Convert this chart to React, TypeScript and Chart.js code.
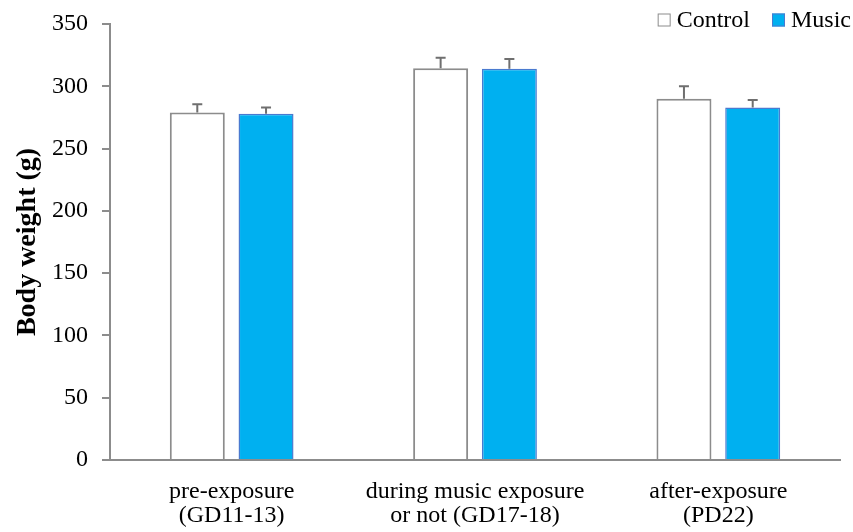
import React, { useEffect, useRef } from "react";
import { Chart, registerables } from "chart.js";

Chart.register(...registerables);

const categories: string[][] = [
  ["pre-exposure", "(GD11-13)"],
  ["during music exposure", "or not (GD17-18)"],
  ["after-exposure", "(PD22)"],
];
const controlValues = [279, 314.5, 290];
const controlErrors = [6.5, 8.5, 10];
const musicValues = [278, 314, 283];
const musicErrors = [5, 8, 6];
const yTicks = [0, 50, 100, 150, 200, 250, 300, 350];

const FONT = "'Liberation Serif', 'Times New Roman', serif";

const errorBarPlugin = {
  id: "errorBars",
  afterDatasetsDraw(chart: any) {
    const ctx = chart.ctx;
    const yScale = chart.scales.y;
    const errs = [controlErrors, musicErrors];
    chart.data.datasets.forEach((ds: any, di: number) => {
      const meta = chart.getDatasetMeta(di);
      meta.data.forEach((bar: any, i: number) => {
        const v = ds.data[i];
        const top = yScale.getPixelForValue(v + errs[di][i]);
        ctx.save();
        ctx.strokeStyle = "#6f6f6f";
        ctx.lineWidth = 2;
        ctx.beginPath();
        ctx.moveTo(bar.x, bar.y);
        ctx.lineTo(bar.x, top);
        ctx.moveTo(bar.x - 5, top);
        ctx.lineTo(bar.x + 5, top);
        ctx.stroke();
        ctx.restore();
      });
    });
  },
};

const legendPlugin = {
  id: "customLegend",
  afterDraw(chart: any) {
    const ctx = chart.ctx;
    const right = chart.width - 2;
    const cy = 20;
    ctx.save();
    ctx.font = `24px ${FONT}`;
    ctx.textBaseline = "middle";
    const items = chart.data.datasets.map((d: any) => d);
    const box = 13;
    const gapBoxText = 6;
    const gapItems = 22;
    const widths = items.map((d: any) => box + gapBoxText + ctx.measureText(d.label).width);
    const total = widths.reduce((a: number, b: number) => a + b, 0) + gapItems * (items.length - 1);
    let x = right - total;
    items.forEach((d: any, i: number) => {
      ctx.fillStyle = d.backgroundColor;
      ctx.fillRect(x, cy - box / 2, box, box);
      ctx.strokeStyle = d.borderColor;
      ctx.lineWidth = 1;
      ctx.strokeRect(x + 0.5, cy - box / 2 + 0.5, box - 1, box - 1);
      ctx.fillStyle = "#000";
      ctx.fillText(d.label, x + box + gapBoxText, cy + 1);
      x += widths[i] + gapItems;
    });
    ctx.restore();
  },
};

export default function App() {
  const ref = useRef<HTMLCanvasElement>(null);
  useEffect(() => {
    document.body.style.margin = "0";
    const chart = new Chart(ref.current!, {
      type: "bar",
      data: {
        labels: categories,
        datasets: [
          {
            label: "Control",
            data: controlValues,
            backgroundColor: "#ffffff",
            borderColor: "#8c8c8c",
            borderWidth: 2,
            barPercentage: 0.8,
            categoryPercentage: 0.565,
          },
          {
            label: "Music",
            data: musicValues,
            backgroundColor: "#00b0f0",
            borderColor: "#4a7ad0",
            borderWidth: 1.5,
            barPercentage: 0.8,
            categoryPercentage: 0.565,
          },
        ],
      },
      plugins: [errorBarPlugin, legendPlugin],
      options: {
        animation: false,
        responsive: false,
        maintainAspectRatio: false,
        layout: { padding: { top: 24, right: 13, left: 0, bottom: 0 } },
        plugins: {
          legend: { display: false },
          tooltip: { enabled: false },
        },
        scales: {
          x: {
            grid: { display: false, drawTicks: false },
            border: { color: "#8c8c8c", width: 2 },
            ticks: {
              color: "#000",
              font: { family: FONT, size: 24, lineHeight: 1.0 },
              padding: 20,
              maxRotation: 0,
              autoSkip: false,
            },
            afterFit: (s: any) => {
              s.height = 72;
            },
          },
          y: {
            min: 0,
            max: 350,
            afterBuildTicks: (s: any) => {
              s.ticks = yTicks.map((v) => ({ value: v }));
            },
            grid: { drawOnChartArea: false, tickLength: 8, color: "#8c8c8c", lineWidth: 2 },
            border: { color: "#8c8c8c", width: 2 },
            ticks: {
              color: "#000",
              font: { family: FONT, size: 24, lineHeight: 1.0 },
              padding: 14,
            },
            title: {
              display: true,
              text: "Body weight (g)",
              color: "#000",
              font: { family: FONT, size: 28, weight: "bold", lineHeight: 1.0 },
              padding: { top: 14, bottom: 0 },
            },
            afterFit: (s: any) => {
              s.width = 110;
              s.paddingTop = 0;
              s.paddingBottom = 0;
            },
          },
        },
      },
    });
    return () => chart.destroy();
  }, []);
  return (
    <div style={{ width: 853, height: 532 }}>
      <canvas ref={ref} width={853} height={532} />
    </div>
  );
}
